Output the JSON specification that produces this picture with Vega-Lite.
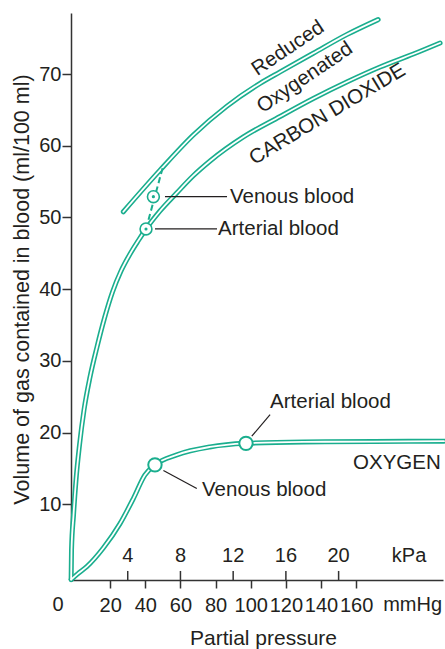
{
  "$schema": "https://vega.github.io/schema/vega-lite/v6.json",
  "width": 372,
  "height": 567,
  "autosize": {"type": "none"},
  "padding": {"left": 71, "top": 13, "right": 2, "bottom": 69},
  "background": "white",
  "config": {
    "font": "Liberation Sans",
    "view": {"stroke": null},
    "axis": {"grid": false, "labelFont": "Liberation Sans", "titleFont": "Liberation Sans"}
  },
  "datasets": {
    "curves": [
      {"series": "O2", "p": -2.2, "v": -0.5},
      {"series": "O2", "p": 1.5, "v": 0.3},
      {"series": "O2", "p": 6.7, "v": 1.3},
      {"series": "O2", "p": 16.1, "v": 3.9},
      {"series": "O2", "p": 25.6, "v": 7.3},
      {"series": "O2", "p": 33.2, "v": 10.8},
      {"series": "O2", "p": 39.8, "v": 14.1},
      {"series": "O2", "p": 45.5, "v": 15.5},
      {"series": "O2", "p": 57.9, "v": 16.9},
      {"series": "O2", "p": 76.8, "v": 18.0},
      {"series": "O2", "p": 96.8, "v": 18.5},
      {"series": "O2", "p": 130, "v": 18.7},
      {"series": "O2", "p": 170, "v": 18.75},
      {"series": "O2", "p": 210, "v": 18.8},
      {"series": "CO2ox", "p": -2.2, "v": -0.5},
      {"series": "CO2ox", "p": -1.99, "v": 3.63},
      {"series": "CO2ox", "p": -0.85, "v": 8.51},
      {"series": "CO2ox", "p": 0.57, "v": 13.39},
      {"series": "CO2ox", "p": 2.56, "v": 18.27},
      {"series": "CO2ox", "p": 5.12, "v": 23.15},
      {"series": "CO2ox", "p": 8.54, "v": 27.75},
      {"series": "CO2ox", "p": 12.52, "v": 31.94},
      {"series": "CO2ox", "p": 16.79, "v": 35.98},
      {"series": "CO2ox", "p": 21.34, "v": 39.61},
      {"series": "CO2ox", "p": 26.18, "v": 42.54},
      {"series": "CO2ox", "p": 31.3, "v": 44.91},
      {"series": "CO2ox", "p": 35.86, "v": 46.72},
      {"series": "CO2ox", "p": 40.41, "v": 48.4},
      {"series": "CO2ox", "p": 48.38, "v": 50.91},
      {"series": "CO2ox", "p": 57.88, "v": 53.42},
      {"series": "CO2ox", "p": 67.16, "v": 55.79},
      {"series": "CO2ox", "p": 76.84, "v": 57.88},
      {"series": "CO2ox", "p": 95.79, "v": 61.23},
      {"series": "CO2ox", "p": 116.68, "v": 64.09},
      {"series": "CO2ox", "p": 135.63, "v": 66.6},
      {"series": "CO2ox", "p": 154.64, "v": 68.9},
      {"series": "CO2ox", "p": 173.59, "v": 70.99},
      {"series": "CO2ox", "p": 192.54, "v": 72.8},
      {"series": "CO2ox", "p": 207.74, "v": 74.34},
      {"series": "CO2red", "p": 27.5, "v": 50.8},
      {"series": "CO2red", "p": 48.4, "v": 56.6},
      {"series": "CO2red", "p": 67.3, "v": 61.5},
      {"series": "CO2red", "p": 86.3, "v": 65.5},
      {"series": "CO2red", "p": 105.3, "v": 68.7},
      {"series": "CO2red", "p": 116.7, "v": 70.3},
      {"series": "CO2red", "p": 135.6, "v": 72.9},
      {"series": "CO2red", "p": 154.6, "v": 75.5},
      {"series": "CO2red", "p": 172.5, "v": 77.6}
    ],
    "dashed": [
      {"p": 40.4, "v": 48.4},
      {"p": 50.3, "v": 57.3}
    ],
    "leaders": [
      {"p": 51.2, "v": 52.9, "p2": 86.5, "v2": 52.9},
      {"p": 45.5, "v": 48.4, "p2": 80.8, "v2": 48.4},
      {"p": 100.6, "v": 19.5, "p2": 111, "v2": 22.5},
      {"p": 50.3, "v": 14.7, "p2": 69.3, "v2": 12.2}
    ],
    "kpaTicks": [
      {"p": 30, "v": -0.56, "v2": 0.7},
      {"p": 60, "v": -0.56, "v2": 0.7},
      {"p": 90, "v": -0.56, "v2": 0.7},
      {"p": 120, "v": -0.56, "v2": 0.7},
      {"p": 150, "v": -0.56, "v2": 0.7}
    ],
    "o2points": [
      {"p": 45.5, "v": 15.5, "label": "Venous"},
      {"p": 97.3, "v": 18.5, "label": "Arterial"}
    ],
    "co2points": [
      {"p": 44.6, "v": 52.9, "label": "Venous"},
      {"p": 40.4, "v": 48.4, "label": "Arterial"}
    ],
    "labels": [
      {"p": 88.2, "v": 52.9, "text": "Venous blood"},
      {"p": 81.4, "v": 48.4, "text": "Arterial blood"},
      {"p": 111, "v": 24.3, "text": "Arterial blood"},
      {"p": 72.3, "v": 12.0, "text": "Venous blood"},
      {"p": 158.2, "v": 15.8, "text": "OXYGEN"}
    ],
    "rot34": [
      {"p": 121.2, "v": 73.6, "text": "Reduced"},
      {"p": 130.8, "v": 69.5, "text": "Oxygenated"}
    ],
    "rot31": [
      {"p": 143.6, "v": 64.4, "text": "CARBON DIOXIDE"}
    ],
    "kpaLabels": [
      {"p": 30, "v": 2.8, "text": "4"},
      {"p": 60, "v": 2.8, "text": "8"},
      {"p": 90, "v": 2.8, "text": "12"},
      {"p": 120, "v": 2.8, "text": "16"},
      {"p": 150, "v": 2.8, "text": "20"},
      {"p": 190.1, "v": 2.8, "text": "kPa"}
    ],
    "mmLabels": [
      {"p": -9.7, "v": -4.0, "text": "0"},
      {"p": 192.1, "v": -4.0, "text": "mmHg"}
    ]
  },
  "layer": [
    {
      "data": {"name": "curves"},
      "mark": {"type": "line", "color": "#1aae8e", "strokeWidth": 5, "strokeCap": "round", "interpolate": "monotone", "clip": false},
      "encoding": {
        "x": {
          "field": "p", "type": "quantitative",
          "scale": {"domain": [-2.28, 209.4], "nice": false, "zero": false},
          "axis": {
            "values": [20, 40, 60, 80, 100, 120, 140, 160],
            "tickSize": 8, "tickWidth": 1.5, "tickColor": "#333",
            "domainColor": "#333", "domainWidth": 1.5,
            "labelFontSize": 20, "labelColor": "#231f20", "labelPadding": 7,
            "labelOverlap": false, "labelFlush": false, "labelBound": false,
            "title": "Partial pressure", "titleFontSize": 21, "titleFontWeight": "normal",
            "titleColor": "#231f20", "titleX": 192, "titleY": 58,
            "titleBaseline": "middle", "titleAlign": "center"
          }
        },
        "y": {
          "field": "v", "type": "quantitative",
          "scale": {"domain": [-0.56, 78.52], "nice": false, "zero": false},
          "axis": {
            "values": [10, 20, 30, 40, 50, 60, 70],
            "tickSize": 9, "tickWidth": 1.5, "tickColor": "#333",
            "domainColor": "#333", "domainWidth": 1.5,
            "labelFontSize": 20, "labelColor": "#231f20", "labelPadding": 1,
            "title": "Volume of gas contained in blood (ml/100 ml)",
            "titleFontSize": 21.5, "titleFontWeight": "normal", "titleColor": "#231f20",
            "titleX": -49, "titleY": 276, "titleBaseline": "middle", "titleAlign": "center", "titleAngle": -90
          }
        },
        "detail": {"field": "series", "type": "nominal"}
      }
    },
    {
      "data": {"name": "curves"},
      "mark": {"type": "line", "color": "white", "strokeWidth": 1.8, "strokeCap": "round", "interpolate": "monotone", "clip": false},
      "encoding": {
        "x": {"field": "p", "type": "quantitative"},
        "y": {"field": "v", "type": "quantitative"},
        "detail": {"field": "series", "type": "nominal"}
      }
    },
    {
      "data": {"name": "dashed"},
      "mark": {"type": "line", "color": "#1aae8e", "strokeWidth": 2, "strokeDash": [6, 3.5]},
      "encoding": {
        "x": {"field": "p", "type": "quantitative"},
        "y": {"field": "v", "type": "quantitative"}
      }
    },
    {
      "data": {"name": "leaders"},
      "mark": {"type": "rule", "color": "#231f20", "strokeWidth": 1.2},
      "encoding": {
        "x": {"field": "p", "type": "quantitative"},
        "y": {"field": "v", "type": "quantitative"},
        "x2": {"field": "p2"},
        "y2": {"field": "v2"}
      }
    },
    {
      "data": {"name": "kpaTicks"},
      "mark": {"type": "rule", "color": "#333", "strokeWidth": 1.5},
      "encoding": {
        "x": {"field": "p", "type": "quantitative"},
        "y": {"field": "v", "type": "quantitative"},
        "y2": {"field": "v2"}
      }
    },
    {
      "data": {"name": "o2points"},
      "mark": {"type": "point", "shape": "circle", "size": 180, "filled": true, "fill": "white", "stroke": "#1aae8e", "strokeWidth": 2, "opacity": 1},
      "encoding": {
        "x": {"field": "p", "type": "quantitative"},
        "y": {"field": "v", "type": "quantitative"}
      }
    },
    {
      "data": {"name": "co2points"},
      "mark": {"type": "point", "shape": "circle", "size": 140, "filled": true, "fill": "white", "stroke": "#1aae8e", "strokeWidth": 1.6, "opacity": 1},
      "encoding": {
        "x": {"field": "p", "type": "quantitative"},
        "y": {"field": "v", "type": "quantitative"}
      }
    },
    {
      "data": {"name": "co2points"},
      "mark": {"type": "point", "shape": "circle", "size": 10, "filled": true, "color": "#1aae8e", "opacity": 1},
      "encoding": {
        "x": {"field": "p", "type": "quantitative"},
        "y": {"field": "v", "type": "quantitative"}
      }
    },
    {
      "data": {"name": "labels"},
      "mark": {"type": "text", "align": "left", "baseline": "middle", "fontSize": 20.5, "color": "#231f20"},
      "encoding": {
        "x": {"field": "p", "type": "quantitative"},
        "y": {"field": "v", "type": "quantitative"},
        "text": {"field": "text"}
      }
    },
    {
      "data": {"name": "rot34"},
      "mark": {"type": "text", "align": "center", "baseline": "middle", "fontSize": 20.5, "angle": -34, "color": "#231f20"},
      "encoding": {
        "x": {"field": "p", "type": "quantitative"},
        "y": {"field": "v", "type": "quantitative"},
        "text": {"field": "text"}
      }
    },
    {
      "data": {"name": "rot31"},
      "mark": {"type": "text", "align": "center", "baseline": "middle", "fontSize": 20.5, "angle": -31, "color": "#231f20"},
      "encoding": {
        "x": {"field": "p", "type": "quantitative"},
        "y": {"field": "v", "type": "quantitative"},
        "text": {"field": "text"}
      }
    },
    {
      "data": {"name": "kpaLabels"},
      "mark": {"type": "text", "align": "center", "baseline": "middle", "fontSize": 20, "color": "#231f20"},
      "encoding": {
        "x": {"field": "p", "type": "quantitative"},
        "y": {"field": "v", "type": "quantitative"},
        "text": {"field": "text"}
      }
    },
    {
      "data": {"name": "mmLabels"},
      "mark": {"type": "text", "align": "center", "baseline": "middle", "fontSize": 20, "color": "#231f20"},
      "encoding": {
        "x": {"field": "p", "type": "quantitative"},
        "y": {"field": "v", "type": "quantitative"},
        "text": {"field": "text"}
      }
    }
  ]
}
